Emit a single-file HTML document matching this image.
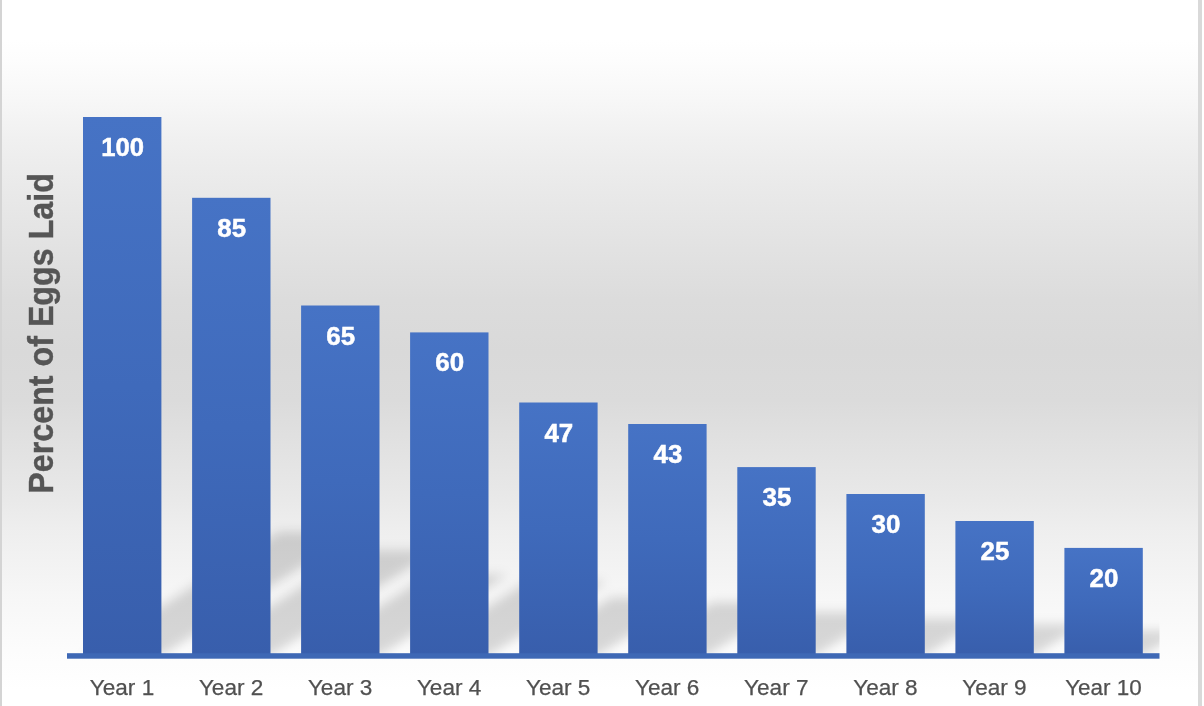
<!DOCTYPE html>
<html><head><meta charset="utf-8"><title>Percent of Eggs Laid</title>
<style>
html,body{margin:0;padding:0;background:#fff;}
body{width:1204px;height:706px;overflow:hidden;}
svg{display:block;}
text{font-family:"Liberation Sans",sans-serif;}
.dl{font-weight:bold;font-size:25.9px;fill:#fff;stroke:#fff;stroke-width:0.5px;text-anchor:middle;}
.xl{font-size:21.9px;fill:#505050;stroke:#505050;stroke-width:0.25px;text-anchor:middle;}
.yt{font-weight:bold;font-size:35px;fill:#555;stroke:#555;stroke-width:0.4px;text-anchor:middle;}
</style></head><body>
<svg width="1204" height="706" viewBox="0 0 1204 706">
<defs>
<linearGradient id="bg" x1="0" y1="0" x2="0" y2="1">
<stop offset="0.0000" stop-color="#ffffff"/>
<stop offset="0.0567" stop-color="#ffffff"/>
<stop offset="0.0850" stop-color="#fdfdfd"/>
<stop offset="0.1416" stop-color="#f7f7f7"/>
<stop offset="0.1983" stop-color="#f0f0f0"/>
<stop offset="0.2493" stop-color="#ebebeb"/>
<stop offset="0.3541" stop-color="#e2e2e2"/>
<stop offset="0.4249" stop-color="#dcdcdc"/>
<stop offset="0.4986" stop-color="#d9d9d9"/>
<stop offset="0.5666" stop-color="#dbdbdb"/>
<stop offset="0.6374" stop-color="#e2e2e2"/>
<stop offset="0.7082" stop-color="#e9e9e9"/>
<stop offset="0.7479" stop-color="#eeeeee"/>
<stop offset="0.7932" stop-color="#f2f2f2"/>
<stop offset="0.8499" stop-color="#f7f7f7"/>
<stop offset="0.9207" stop-color="#fcfcfc"/>
<stop offset="0.9773" stop-color="#ffffff"/>
<stop offset="1.0000" stop-color="#ffffff"/>
</linearGradient>
<linearGradient id="bar" x1="0" y1="0" x2="0" y2="1">
<stop offset="0" stop-color="#4673c5"/><stop offset="0.5" stop-color="#3f6abb"/><stop offset="1" stop-color="#385eac"/>
</linearGradient>
<filter id="blur" x="-20%" y="-20%" width="140%" height="140%"><feGaussianBlur stdDeviation="5.2"/></filter>
<clipPath id="plot"><rect x="67" y="0" width="1092.5" height="653.5"/></clipPath>
</defs>
<rect x="0" y="0" width="1204" height="706" fill="#fff"/>
<rect x="0" y="0" width="1202" height="706" fill="url(#bg)"/>
<rect x="0" y="0" width="2" height="706" fill="#d4d4d4"/>
<rect x="1198" y="0" width="4" height="706" fill="#d9d9d9"/>
<g clip-path="url(#plot)"><g filter="url(#blur)" fill="#000" fill-opacity="0.15">
<polygon points="83.0,655.6 161.4,655.6 357.5,531.7 279.1,531.7"/>
<polygon points="192.1,655.6 270.5,655.6 437.1,550.3 358.7,550.3"/>
<polygon points="301.1,655.6 379.5,655.6 506.9,575.1 428.5,575.1"/>
<polygon points="410.1,655.6 488.5,655.6 606.2,581.3 527.8,581.3"/>
<polygon points="519.2,655.6 597.6,655.6 689.7,597.4 611.3,597.4"/>
<polygon points="628.2,655.6 706.6,655.6 791.0,602.3 712.6,602.3"/>
<polygon points="737.3,655.6 815.7,655.6 884.3,612.2 805.9,612.2"/>
<polygon points="846.4,655.6 924.8,655.6 983.6,618.4 905.2,618.4"/>
<polygon points="955.4,655.6 1033.8,655.6 1082.8,624.6 1004.4,624.6"/>
<polygon points="1064.4,655.6 1142.8,655.6 1182.1,630.8 1103.7,630.8"/>
</g></g>
<rect x="83.0" y="117.0" width="78.4" height="538.6" fill="url(#bar)"/>
<rect x="192.1" y="197.8" width="78.4" height="457.8" fill="url(#bar)"/>
<rect x="301.1" y="305.5" width="78.4" height="350.1" fill="url(#bar)"/>
<rect x="410.1" y="332.4" width="78.4" height="323.2" fill="url(#bar)"/>
<rect x="519.2" y="402.5" width="78.4" height="253.1" fill="url(#bar)"/>
<rect x="628.2" y="424.0" width="78.4" height="231.6" fill="url(#bar)"/>
<rect x="737.3" y="467.1" width="78.4" height="188.5" fill="url(#bar)"/>
<rect x="846.4" y="494.0" width="78.4" height="161.6" fill="url(#bar)"/>
<rect x="955.4" y="521.0" width="78.4" height="134.7" fill="url(#bar)"/>
<rect x="1064.4" y="547.9" width="78.4" height="107.7" fill="url(#bar)"/>
<rect x="67" y="653.2" width="1092.5" height="5.5" fill="#3e68b5"/>
<text class="dl" x="122.6" y="156.0" textLength="42.8" lengthAdjust="spacingAndGlyphs">100</text>
<text class="dl" x="231.7" y="236.8" textLength="28.8" lengthAdjust="spacingAndGlyphs">85</text>
<text class="dl" x="340.7" y="344.5" textLength="28.8" lengthAdjust="spacingAndGlyphs">65</text>
<text class="dl" x="449.7" y="371.4" textLength="28.8" lengthAdjust="spacingAndGlyphs">60</text>
<text class="dl" x="558.8" y="441.5" textLength="28.8" lengthAdjust="spacingAndGlyphs">47</text>
<text class="dl" x="667.9" y="463.0" textLength="28.8" lengthAdjust="spacingAndGlyphs">43</text>
<text class="dl" x="776.9" y="506.1" textLength="28.8" lengthAdjust="spacingAndGlyphs">35</text>
<text class="dl" x="886.0" y="533.0" textLength="28.8" lengthAdjust="spacingAndGlyphs">30</text>
<text class="dl" x="995.0" y="560.0" textLength="28.8" lengthAdjust="spacingAndGlyphs">25</text>
<text class="dl" x="1104.0" y="586.9" textLength="28.8" lengthAdjust="spacingAndGlyphs">20</text>
<text class="xl" x="122.0" y="695.4" textLength="64.4" lengthAdjust="spacingAndGlyphs">Year 1</text>
<text class="xl" x="231.1" y="695.4" textLength="64.4" lengthAdjust="spacingAndGlyphs">Year 2</text>
<text class="xl" x="340.1" y="695.4" textLength="64.4" lengthAdjust="spacingAndGlyphs">Year 3</text>
<text class="xl" x="449.1" y="695.4" textLength="64.4" lengthAdjust="spacingAndGlyphs">Year 4</text>
<text class="xl" x="558.2" y="695.4" textLength="64.4" lengthAdjust="spacingAndGlyphs">Year 5</text>
<text class="xl" x="667.2" y="695.4" textLength="64.4" lengthAdjust="spacingAndGlyphs">Year 6</text>
<text class="xl" x="776.3" y="695.4" textLength="64.4" lengthAdjust="spacingAndGlyphs">Year 7</text>
<text class="xl" x="885.4" y="695.4" textLength="64.4" lengthAdjust="spacingAndGlyphs">Year 8</text>
<text class="xl" x="994.4" y="695.4" textLength="64.4" lengthAdjust="spacingAndGlyphs">Year 9</text>
<text class="xl" x="1103.4" y="695.4" textLength="76.5" lengthAdjust="spacingAndGlyphs">Year 10</text>
<text class="yt" transform="translate(53.3,333.4) rotate(-90)" textLength="320.5" lengthAdjust="spacingAndGlyphs">Percent of Eggs Laid</text>
</svg></body></html>
